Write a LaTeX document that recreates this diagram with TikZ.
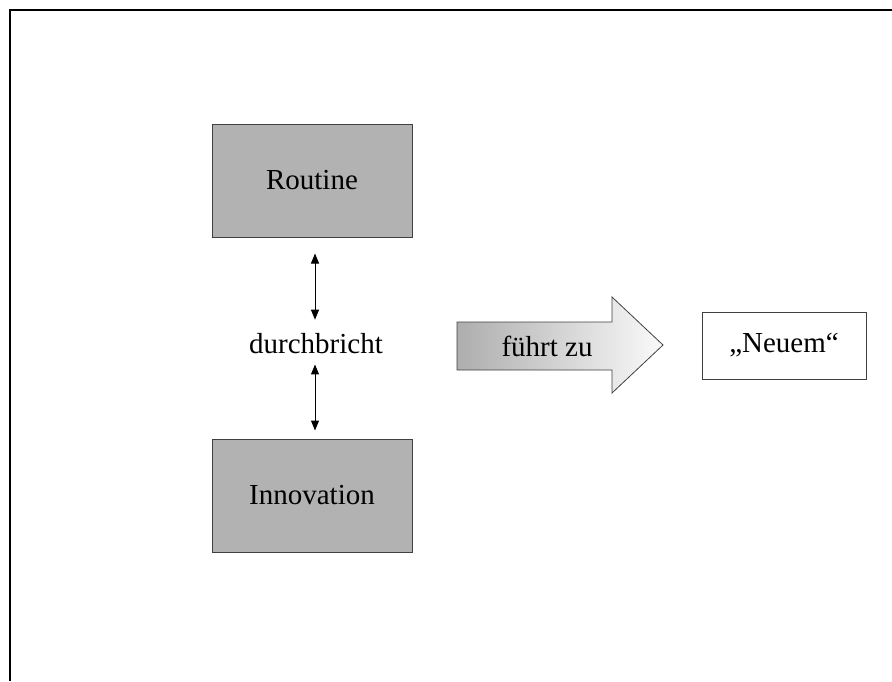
\documentclass[tikz,border=0pt]{standalone}
\usepackage{fontspec}
\setmainfont{Liberation Serif}
\usetikzlibrary{arrows.meta}
\begin{document}
\begin{tikzpicture}[x=1pt,y=-1pt,
  every node/.style={font=\fontsize{29}{34}\selectfont},
  graybox/.style={draw=black!75, fill=black!30, line width=1pt, minimum width=200pt, minimum height=113pt, inner sep=0pt},
  whitebox/.style={draw=black!75, fill=white, line width=1pt, minimum width=164pt, minimum height=67pt, inner sep=0pt},
  dblarrow/.style={line width=1pt, {Triangle[length=10pt,width=8pt]}-{Triangle[length=10pt,width=8pt]}}]
\useasboundingbox (0,0) rectangle (892,681);
\draw[line width=2.5pt] (892,10) -- (10,10) -- (10,681);
\node[graybox] (routine) at (312,180.5) {Routine};
\node[graybox] (innov) at (312,495.5) {Innovation};
\node[inner sep=0pt, anchor=base] (durch) at (316,353) {durchbricht};
\draw[dblarrow, shorten <=16pt, shorten >=13pt] ([xshift=3pt]routine.south) -- ([xshift=3pt]routine.south |- durch.north);
\draw[dblarrow, shorten <=11pt, shorten >=8pt] ([xshift=3pt]innov.north |- durch.south) -- ([xshift=3pt]innov.north);
\shade[left color=black!32, right color=black!2, draw=black!75, line width=0.8pt]
  (457,322) -- (612,322) -- (612,297) -- (663,345) -- (612,393) -- (612,370) -- (457,370) -- cycle;
\node[anchor=base, inner sep=0pt] (fuehrt) at (547,356) {führt zu};
\node[whitebox] (neuem) at (784,345.5) {\raisebox{-2pt}{„Neuem“}};
\end{tikzpicture}
\end{document}
